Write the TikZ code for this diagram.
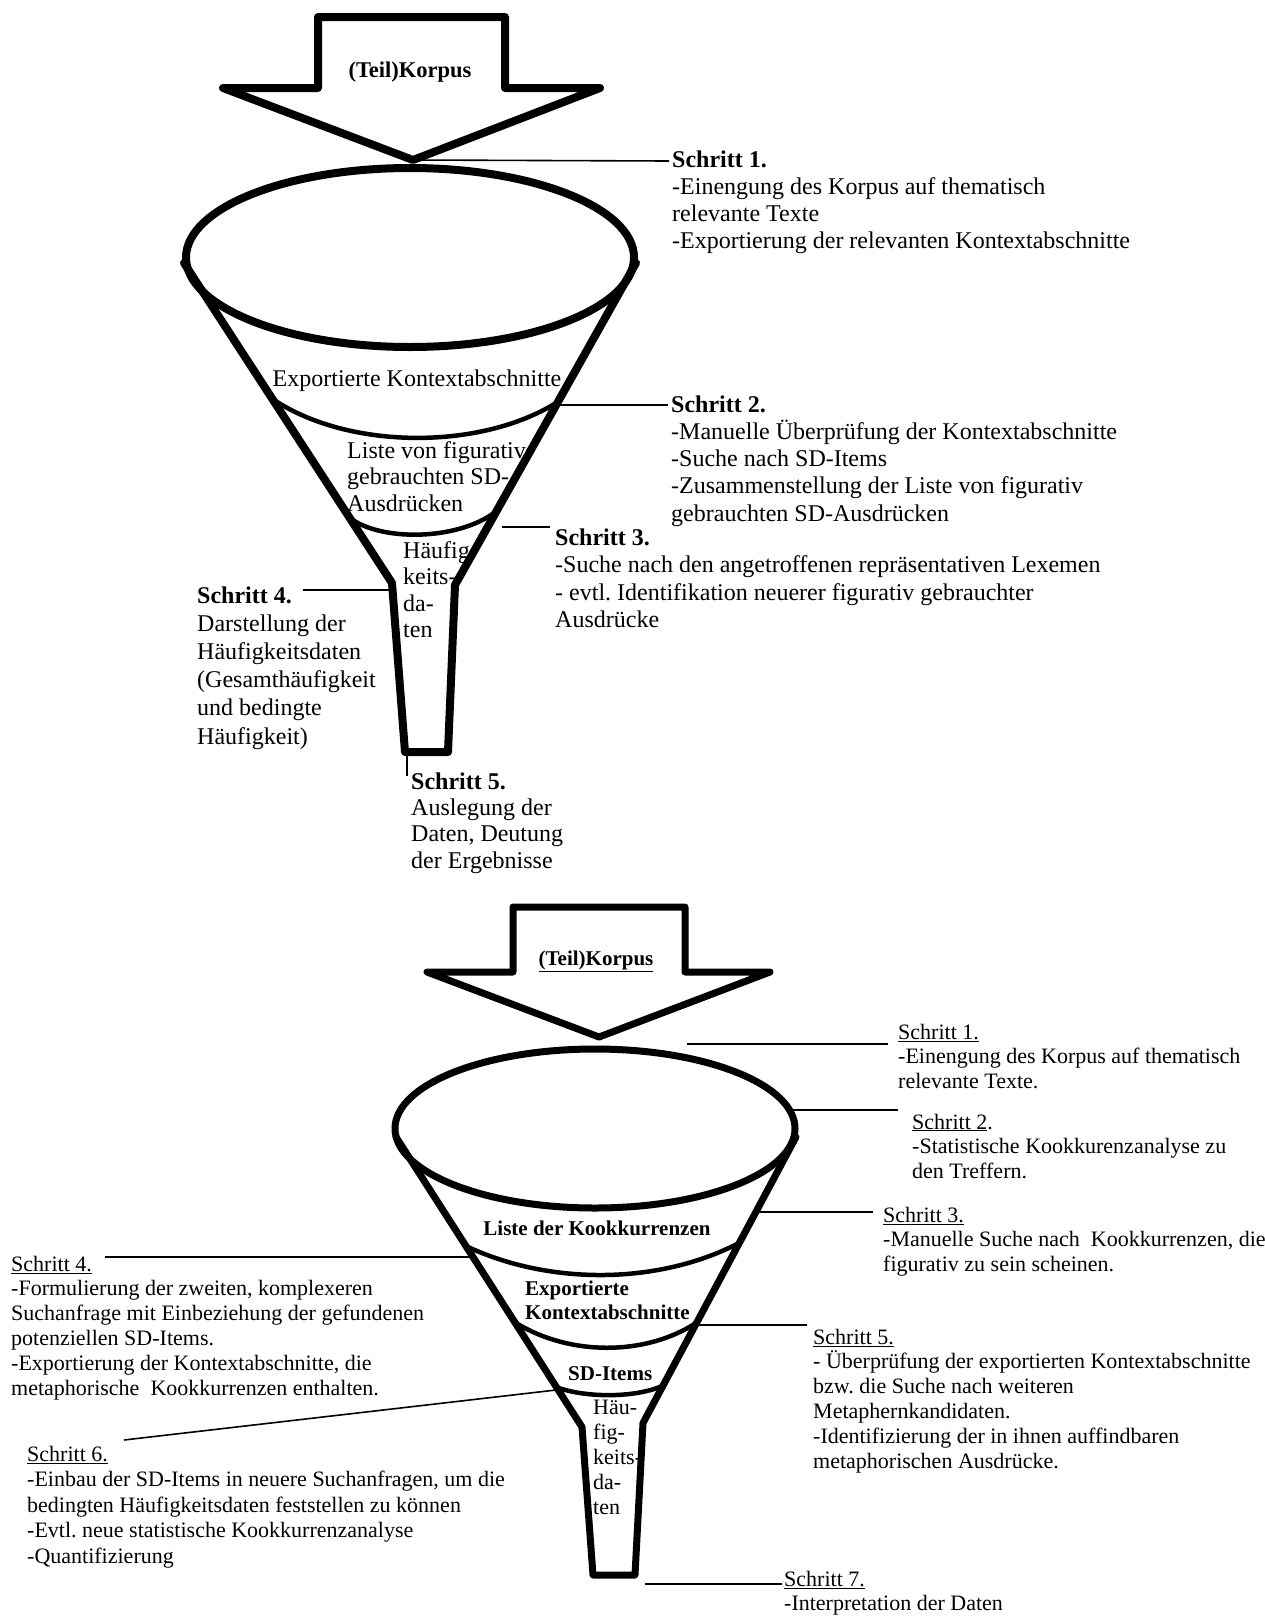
\documentclass[tikz,border=0pt]{standalone}
\usepackage{fontspec}
\setmainfont{Liberation Serif}
\frenchspacing
% several left-aligned lines; the box baseline is the first line's baseline
\newcommand\txtrows[1]{\vtop{\halign{##\hfil\cr#1\crcr}}}
\newcommand\fnTop[1]{\fontsize{24}{#1}\selectfont}
\newcommand\fnBot[1]{\fontsize{22}{#1}\selectfont}
\newcommand\fnBotLab{\fontsize{21}{24.8}\selectfont}
\begin{document}
\begin{tikzpicture}[x=1pt,y=-1pt,
  wall/.style={line width=8pt, line join=round, line cap=round},
  wallb/.style={line width=7pt, line join=round, line cap=round},
  band/.style={line width=4.5pt, line cap=round},
  leader/.style={line width=1.6pt},
  txt/.style={inner sep=0pt, anchor=base west, font=\fnTop{27.3}},
  txtb/.style={inner sep=0pt, anchor=base west, font=\fnBot{24.9}},
  labb/.style={inner sep=0pt, anchor=base west, font=\fnBotLab\bfseries}]
\useasboundingbox (0,0) rectangle (1265,1618);
\fill[white] (0,0) rectangle (1265,1618);

% ================= upper funnel =================
% block arrow
\coordinate (tA1) at (318,17);  \coordinate (tA2) at (505,17);
\coordinate (tA3) at (505,88);  \coordinate (tA4) at (600,88);
\coordinate (tTip) at (413,160);
\coordinate (tA6) at (223,88);  \coordinate (tA7) at (318,88);
% funnel mouth, walls and spout
\coordinate (tE) at (410,257.5);
\coordinate (tL0) at (184,263); \coordinate (tLn) at (392,583);
\coordinate (tLb) at (405,752); \coordinate (tRb) at (448,752);
\coordinate (tRn) at (455,585); \coordinate (tR0) at (636,263);
% band separators
\coordinate (tS1l) at (274,400); \coordinate (tS1r) at (556,403);
\coordinate (tS2l) at (350,518); \coordinate (tS2r) at (494,513);

\node[inner sep=0pt, anchor=base, font=\fontsize{22.5}{26}\selectfont\bfseries] (ttk) at (410,77) {(Teil)Korpus};

\node[inner sep=0pt, anchor=base, font=\fnTop{27}] (tf1) at (417,386) {Exportierte Kontextabschnitte};
\node[txt, font=\fnTop{26.8}] (tf2) at (347,458) {\txtrows{Liste von figurativ\cr gebrauchten SD-\cr Ausdrücken}};
\node[txt, font=\fnTop{26.6}] (tf3) at (403,558) {\txtrows{Häufig\cr keits-\cr da-\cr ten}};

\node[txt, font=\fnTop{27.1}] (tx1) at (672,167) {\txtrows{\textbf{Schritt 1.}\cr -Einengung des Korpus auf thematisch\cr relevante Texte\cr -Exportierung der relevanten Kontextabschnitte}};
\node[txt, font=\fnTop{27.3}] (tx2) at (671,412) {\txtrows{\textbf{Schritt 2.}\cr -Manuelle Überprüfung der Kontextabschnitte\cr -Suche nach SD-Items\cr -Zusammenstellung der Liste von figurativ\cr gebrauchten SD-Ausdrücken}};
\node[txt, font=\fnTop{27.5}] (tx3) at (555,545) {\txtrows{\textbf{Schritt 3.}\cr -Suche nach den angetroffenen repräsentativen Lexemen\cr - evtl. Identifikation neuerer figurativ gebrauchter\cr Ausdrücke}};
\node[txt, font=\fnTop{28.2}] (tx4) at (197,603) {\txtrows{\textbf{Schritt 4.}\cr Darstellung der\cr Häufigkeitsdaten\cr (Gesamthäufigkeit\cr und bedingte\cr Häufigkeit)}};
\node[txt, font=\fnTop{26.4}] (tx5) at (411,789) {\txtrows{\textbf{Schritt 5.}\cr Auslegung der\cr Daten, Deutung\cr der Ergebnisse}};

\draw[wall] (tA1) -- (tA2) -- (tA3) -- (tA4) -- (tTip) -- (tA6) -- (tA7) -- cycle;
\draw[wall] (tE) ellipse [x radius=224pt, y radius=89.5pt];
\draw[wall] (tL0) -- (tLn) -- (tLb) -- (tRb) -- (tRn) -- (tR0);
\draw[band] (tS1l) .. controls (350,450) and (480,450) .. (tS1r);
\draw[band] (tS2l) .. controls (380,541) and (455,541) .. (tS2r);

% leaders to the step texts
\coordinate (t1e) at (669,161);
\coordinate (t2s) at (557,405); \coordinate (t2e) at (668,405);
\coordinate (t3s) at (502,527); \coordinate (t3e) at (550,527);
\coordinate (t4s) at (303,590); \coordinate (t4e) at (389,590);
\coordinate (t5s) at (407,752); \coordinate (t5e) at (407,776);
\draw[leader] (tTip) -- (t1e);
\draw[leader] (t2s) -- (t2e);
\draw[leader] (t3s) -- (t3e);
\draw[leader] (t4s) -- (t4e);
\draw[leader] (t5s) -- (t5e);

% ================= lower funnel =================
\coordinate (bA1) at (513,907);  \coordinate (bA2) at (685,907);
\coordinate (bA3) at (685,972);  \coordinate (bA4) at (770,972);
\coordinate (bTip) at (599,1037);
\coordinate (bA6) at (427,972);  \coordinate (bA7) at (513,972);
\coordinate (bE) at (595,1128.5);
\coordinate (bL0) at (396,1137); \coordinate (bLn) at (582,1427);
\coordinate (bLb) at (593,1575); \coordinate (bRb) at (635,1575);
\coordinate (bRn) at (643,1423); \coordinate (bR0) at (796,1137);
\coordinate (bS1l) at (468,1247); \coordinate (bS1r) at (739,1243);
\coordinate (bS2l) at (516,1323); \coordinate (bS2r) at (696,1323);
\coordinate (bS3l) at (556,1387); \coordinate (bS3r) at (662,1386);

\node[inner sep=0pt, anchor=base, font=\fontsize{21}{24}\selectfont\bfseries] (btk) at (596,965) {\underline{(Teil)Korpus}};

\node[inner sep=0pt, anchor=base, font=\fnBotLab\bfseries] (bf1) at (597,1235) {Liste der Kookkurrenzen};
\node[labb] (bf2) at (525,1295) {\txtrows{Exportierte\cr Kontextabschnitte}};
\node[labb] (bf3) at (568,1380) {SD-Items};
\node[txtb, font=\fnBot{25}] (bf4) at (593,1414) {\txtrows{Häu-\cr fig-\cr keits-\cr da-\cr ten}};

\node[txtb] (bx1) at (898,1039) {\txtrows{\underline{Schritt 1.}\cr -Einengung des Korpus auf thematisch\cr relevante Texte.}};
\node[txtb] (bx2) at (912,1129) {\txtrows{\underline{Schritt 2}.\cr -Statistische Kookkurenzanalyse zu\cr den Treffern.}};
\node[txtb] (bx3) at (883,1222) {\txtrows{\underline{Schritt 3.}\cr -Manuelle Suche nach\ \ Kookkurrenzen, die\cr figurativ zu sein scheinen.}};
\node[txtb] (bx4) at (11,1271) {\txtrows{\underline{Schritt 4.}\cr -Formulierung der zweiten, komplexeren\cr Suchanfrage mit Einbeziehung der gefundenen\cr potenziellen SD-Items.\cr -Exportierung der Kontextabschnitte, die\cr metaphorische\ \ Kookkurrenzen enthalten.}};
\node[txtb] (bx5) at (813,1344) {\txtrows{\underline{Schritt 5.}\cr - Überprüfung der exportierten Kontextabschnitte\cr bzw. die Suche nach weiteren\cr Metaphernkandidaten.\cr -Identifizierung der in ihnen auffindbaren\cr metaphorischen Ausdrücke.}};
\node[txtb, font=\fnBot{25.6}] (bx6) at (27,1461) {\txtrows{\underline{Schritt 6.}\cr -Einbau der SD-Items in neuere Suchanfragen, um die\cr bedingten Häufigkeitsdaten feststellen zu können\cr -Evtl. neue statistische Kookkurrenzanalyse\cr -Quantifizierung}};
\node[txtb] (bx7) at (784,1586) {\txtrows{\underline{Schritt 7.}\cr -Interpretation der Daten}};

\draw[wallb] (bA1) -- (bA2) -- (bA3) -- (bA4) -- (bTip) -- (bA6) -- (bA7) -- cycle;
\draw[wallb] (bE) ellipse [x radius=200pt, y radius=79.5pt];
\draw[wallb] (bL0) -- (bLn) -- (bLb) -- (bRb) -- (bRn) -- (bR0);
\draw[band] (bS1l) .. controls (550,1285) and (658,1285) .. (bS1r);
\draw[band] (bS2l) .. controls (570,1356) and (645,1356) .. (bS2r);
\draw[band] (bS3l) .. controls (585,1398) and (635,1398) .. (bS3r);

\coordinate (b1s) at (687,1044); \coordinate (b1e) at (888,1044);
\coordinate (b2s) at (791,1110); \coordinate (b2e) at (898,1110);
\coordinate (b3s) at (757,1212); \coordinate (b3e) at (873,1212);
\coordinate (b4s) at (105,1257); \coordinate (b4e) at (470,1257);
\coordinate (b5s) at (697,1325); \coordinate (b5e) at (807,1325);
\coordinate (b6s) at (124,1440); \coordinate (b6e) at (556,1390);
\coordinate (b7s) at (645,1584); \coordinate (b7e) at (782,1584);
\draw[leader] (b1s) -- (b1e);
\draw[leader] (b2s) -- (b2e);
\draw[leader] (b3s) -- (b3e);
\draw[leader] (b4s) -- (b4e);
\draw[leader] (b5s) -- (b5e);
\draw[leader] (b6s) -- (b6e);
\draw[leader] (b7s) -- (b7e);
\end{tikzpicture}
\end{document}
